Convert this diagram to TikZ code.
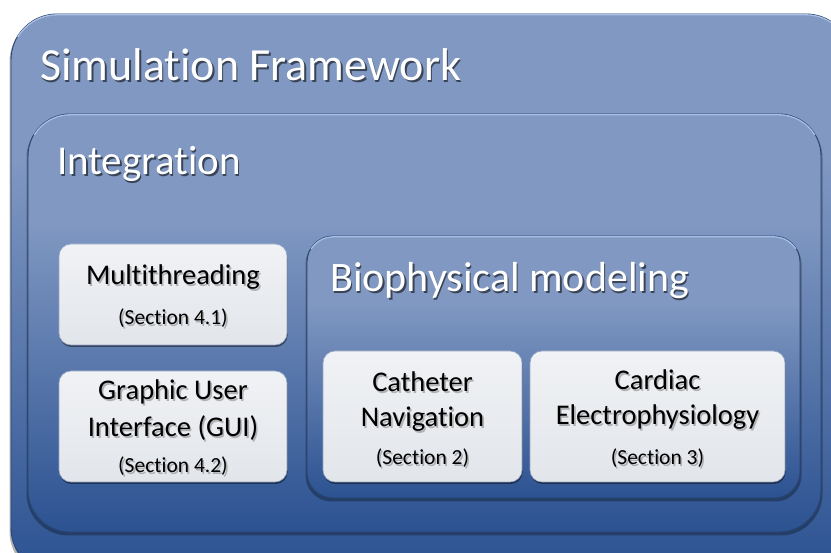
\documentclass[tikz,border=0pt]{standalone}
\usepackage{fontspec}
\setmainfont{Carlito}[Ligatures={NoCommon,NoRare,NoContextual}]
\usetikzlibrary{shadows}
\newcommand\nlg{\kern0pt }
\definecolor{ltb}{RGB}{128,152,194}
\definecolor{dkb}{RGB}{44,82,145}
\definecolor{bedge}{RGB}{40,68,115}
\definecolor{bhi}{RGB}{168,190,226}
\definecolor{wtop}{RGB}{240,242,245}
\definecolor{wbot}{RGB}{226,229,234}
\definecolor{wedge}{RGB}{150,166,196}
\pgfdeclareverticalshading{bgrad}{100bp}{color(0bp)=(dkb); color(25bp)=(dkb); color(62bp)=(ltb); color(100bp)=(ltb)}
\pgfdeclareverticalshading{wgrad}{100bp}{color(0bp)=(wbot); color(25bp)=(wbot); color(75bp)=(wtop); color(100bp)=(wtop)}
\newcommand\bluebox[5]{%
  \fill[black,opacity=0.3,rounded corners=#5pt] (#1-1.5,#2+2) rectangle (#3+1.5,#4+3.5);
  \shadedraw[shading=bgrad,rounded corners=#5pt,draw=bedge,line width=0.9pt] (#1,#2) rectangle (#3,#4);
  \begin{scope}
    \clip (#1-3,#2-3) rectangle (#3+3,#2+#5*0.5);
    \draw[bhi,line width=1.3pt,rounded corners=#5pt] (#1+0.2,#2+0.8) rectangle (#3-0.2,#4);
  \end{scope}}
\newcommand\tx[6]{%
  \node[#2,text=#5,opacity=0.55] (#1s) at (#3+1.6,#4+1.6) {#6};
  \node[#2] (#1) at (#3,#4) {#6};}
\tikzset{
  ttl/.style={text=white,inner sep=0pt,anchor=base west},
  btxt/.style={text=black,inner sep=0pt,anchor=base,font=\fontsize{28.5}{34}\selectfont},
  stxt/.style={text=black,inner sep=0pt,anchor=base,font=\fontsize{21.5}{25}\selectfont},
  wbox/.style={shading=wgrad,draw=wedge,line width=0.6pt,rounded corners=12pt,inner sep=0pt,
    drop shadow={shadow xshift=0.6pt,shadow yshift=-2pt,opacity=0.45,fill=black}}
}
\begin{document}
\begin{tikzpicture}[x=1pt,y=-1pt]
\useasboundingbox (0,0) rectangle (831,553);
\clip (0,0) rectangle (831,553);
\bluebox{11}{14}{852}{574}{46}
\bluebox{28}{114}{821}{532}{42}
\tx{sf}{ttl,font=\fontsize{46}{50}\selectfont}{40}{81}{black}{Simulat\nlg ion Framework}
\tx{int}{ttl,font=\fontsize{41}{46}\selectfont}{57}{175}{black}{Integrat\nlg ion}
\bluebox{307}{236}{800}{498}{26}
\tx{bio}{ttl,font=\fontsize{42}{46}\selectfont}{330}{292}{black}{Biophysical modeling}
\node[wbox,shade,minimum width=228pt,minimum height=101pt] (mtbox) at (173,294.5) {};
\node[wbox,shade,minimum width=228pt,minimum height=111pt] (guibox) at (173,426.5) {};
\node[wbox,shade,minimum width=199pt,minimum height=131pt] (catbox) at (422.5,416.5) {};
\node[wbox,shade,minimum width=255pt,minimum height=131pt] (carbox) at (657.5,416.5) {};
\tx{mt}{btxt}{173}{285}{gray}{Mult\nlg it\nlg hreading}
\tx{mts}{stxt}{173}{325}{gray}{(Sect\nlg ion 4.1)}
\tx{gui1}{btxt}{173}{400}{gray}{Graphic User}
\tx{gui2}{btxt}{173}{437}{gray}{Interface (GUI)}
\tx{guis}{stxt}{173}{473}{gray}{(Sect\nlg ion 4.2)}
\tx{cat1}{btxt}{422.5}{392}{gray}{Cat\nlg heter}
\tx{cat2}{btxt}{422.5}{427}{gray}{Navigat\nlg ion}
\tx{cats}{stxt}{422.5}{465}{gray}{(Sect\nlg ion 2)}
\tx{car1}{btxt}{657.5}{390}{gray}{Cardiac}
\tx{car2}{btxt}{657.5}{425}{gray}{Electrophysiology}
\tx{cars}{stxt}{657.5}{465}{gray}{(Sect\nlg ion 3)}
\end{tikzpicture}
\end{document}
